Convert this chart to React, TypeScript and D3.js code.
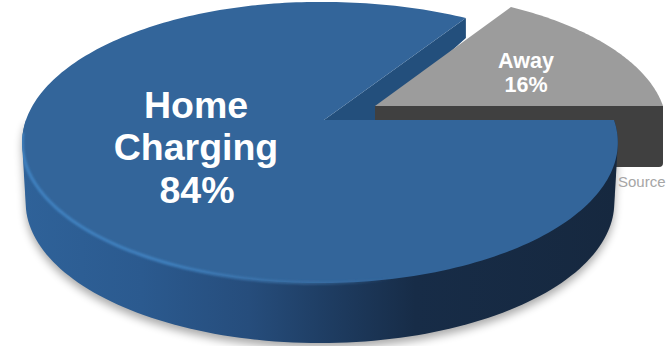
import React from "react";
import * as d3 from "d3";

// Charging location shares
const categories = ["Home Charging", "Away"];
const shares = [84, 16];
const shareLabels = ["84%", "16%"];
const sourceLabel = "Source";

const WIDTH = 667;
const HEIGHT = 346;

// Perspective projection of a unit disc onto the tilted pie plane
const FORESHORTEN = -0.16;
type Plane = { cx: number; cy: number; rx: number; ry: number; flare?: number };
const project = (p: Plane, angle: number): [number, number] => {
  const u = Math.sin(angle);
  const v = -Math.cos(angle);
  const w = 1 + FORESHORTEN * v;
  // the back right quadrant of the disc bulges slightly outward
  const bulge = u > 0 && v < 0 ? (p.flare ?? 0) * u * v * v : 0;
  return [p.cx + (p.rx * u + bulge) / w, p.cy + (p.ry * v) / w];
};

const homeTop: Plane = { cx: 320, cy: 120, rx: 294, ry: 137, flare: 21 };
const awayTop: Plane = { cx: 375, cy: 106, rx: 288, ry: 133 };
const homeBase: Plane = { cx: 320, cy: 180, rx: 290.5, ry: 137 };
const homeApex: [number, number] = [324, 120];

const pie = d3
  .pie<number>()
  .sort(null)
  .startAngle(Math.PI / 2)
  .endAngle(Math.PI * 2.5);
const [homeSlice, awaySlice] = pie(shares);

const arcPoints = (p: Plane, a0: number, a1: number, n = 120) =>
  d3.range(n + 1).map((i) => project(p, a0 + ((a1 - a0) * i) / n));

const line = d3.line<[number, number]>();
const closed = d3.line<[number, number]>().curve(d3.curveLinearClosed);

// Top faces
const homeTopPts = [homeApex, ...arcPoints(homeTop, homeSlice.startAngle, homeSlice.endAngle, 240)];
const awayTopPts: [number, number][] = [
  [awayTop.cx, awayTop.cy],
  ...arcPoints(awayTop, awaySlice.startAngle, awaySlice.endAngle, 80),
];

// Curved rim of the large slice: silhouette of its front half swept down to the base
const frontTop = arcPoints(homeTop, Math.PI / 2, Math.PI * 1.5);
const frontBase = arcPoints(homeBase, Math.PI / 2, Math.PI * 1.5);
const homeWall = d3.polygonHull([...frontTop, ...frontBase]) ?? [];

// Cut face of the large slice where the small one was pulled away
const cutCorner = project(homeTop, homeSlice.endAngle);
const cutFace: [number, number][] = [
  homeApex,
  cutCorner,
  [cutCorner[0], cutCorner[1] + 20],
  [awayTop.cx, homeApex[1]],
];

// Front face of the small slice
const awayRight = project(awayTop, awaySlice.endAngle);
const awayFloor = 167;
const awayWall = [
  `M${awayTop.cx},${awayTop.cy}`,
  `L${awayRight[0]},${awayRight[1]}`,
  `L${awayRight[0]},${awayFloor - 4}`,
  `Q${awayRight[0]},${awayFloor} ${awayRight[0] - 4},${awayFloor}`,
  `L${awayTop.cx},${awayFloor}`,
  "Z",
].join("");

const wallStops: [number, string][] = [
  [0, "#2f6299"],
  [0.2, "#2b5a8f"],
  [0.38, "#264d7c"],
  [0.52, "#1e3c61"],
  [0.66, "#172c47"],
  [1, "#16283f"],
];
const rimStops: [number, string, number][] = [
  [0, "#4285c4", 0.95],
  [0.25, "#4285c4", 0.9],
  [0.5, "#3f76ad", 0.55],
  [0.62, "#3f76ad", 0],
  [1, "#3f76ad", 0],
];

export default function App() {
  const sans = "'Liberation Sans', Arial, sans-serif";
  return (
    <svg
      width={WIDTH}
      height={HEIGHT}
      viewBox={`0 0 ${WIDTH} ${HEIGHT}`}
      style={{ position: "absolute", left: 0, top: 0, display: "block", background: "#fff" }}
    >
      <defs>
        <linearGradient id="wallFill" gradientUnits="userSpaceOnUse" x1={22} x2={618} y1={0} y2={0}>
          {wallStops.map(([o, c]) => (
            <stop key={o} offset={o} stopColor={c} />
          ))}
        </linearGradient>
        <linearGradient id="rimFill" gradientUnits="userSpaceOnUse" x1={22} x2={618} y1={0} y2={0}>
          {rimStops.map(([o, c, a]) => (
            <stop key={o} offset={o} stopColor={c} stopOpacity={a} />
          ))}
        </linearGradient>
        <filter id="soft" x="-10%" y="-10%" width="120%" height="130%">
          <feGaussianBlur stdDeviation={4.5} />
        </filter>
        <filter id="softer" x="-5%" y="-5%" width="110%" height="110%">
          <feGaussianBlur stdDeviation={1} />
        </filter>
        {/* keeps the rim highlight inside the disc silhouette */}
        <clipPath id="discClip">
          <path d={closed(homeTopPts) ?? ""} />
          <path d={closed(homeWall) ?? ""} />
        </clipPath>
      </defs>

      {/* cast shadow under the disc */}
      <path d={closed(homeWall) ?? ""} fill="#000" opacity={0.33} filter="url(#soft)" transform="translate(0,5)" />

      <path d={closed(cutFace) ?? ""} fill="#234f7c" />

      {/* small slice */}
      <path d={awayWall} fill="#404040" />
      <path d={closed(awayTopPts) ?? ""} fill="#9c9c9c" />

      {/* large slice */}
      <path d={closed(homeWall) ?? ""} fill="url(#wallFill)" />
      <path d={closed(homeTopPts) ?? ""} fill="#33659a" />
      <g clipPath="url(#discClip)">
        <path
          d={line(arcPoints(homeTop, Math.PI * 0.56, Math.PI * 1.47)) ?? ""}
          fill="none"
          stroke="url(#rimFill)"
          strokeWidth={3}
          filter="url(#softer)"
        />
      </g>

      <g fontFamily={sans} fontWeight={700} fill="#fff" textAnchor="middle">
        <text x={196} y={118} fontSize={37.5}>{categories[0].split(" ")[0]}</text>
        <text x={196} y={160} fontSize={37.5}>{categories[0].split(" ")[1]}</text>
        <text x={197} y={203} fontSize={37.5}>{shareLabels[0]}</text>
        <text x={526} y={68} fontSize={21.5}>{categories[1]}</text>
        <text x={526} y={92} fontSize={21.5}>{shareLabels[1]}</text>
      </g>
      <text x={618} y={187} fontFamily={sans} fontSize={15} fill="#a6a6a6">{sourceLabel}</text>
    </svg>
  );
}
